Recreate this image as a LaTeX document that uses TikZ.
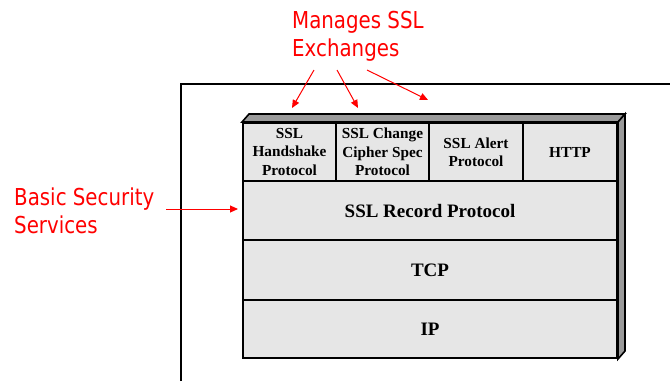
\documentclass[tikz,border=0pt]{standalone}
\usepackage{fontspec}
\setmainfont{Liberation Serif}
\newfontfamily\redfont[FakeStretch=0.85]{DejaVu Sans}
\usetikzlibrary{arrows.meta,calc}
\definecolor{facegray}{HTML}{E6E6E6}
\definecolor{sidegray}{HTML}{9A9A9A}
\definecolor{notered}{HTML}{FF0000}
\tikzset{
  cell/.style={draw=black, line width=2pt, fill=facegray, inner sep=0pt, align=center,
    font=\bfseries\fontsize{15.3}{18.3}\selectfont},
  bigcell/.style={cell, minimum width=374pt, font=\bfseries\fontsize{19}{22}\selectfont},
  shade3d/.style={draw=black, line width=1.6pt, fill=sidegray, line join=miter},
  note/.style={text=notered, inner sep=0pt, anchor=north west, align=left,
    font=\redfont\fontsize{23.3}{28}\selectfont},
  notearrow/.style={draw=notered, line width=1pt, -{Triangle[length=8pt,width=7pt]}},
}
\begin{document}
\begin{tikzpicture}[x=1pt,y=-1pt]
\useasboundingbox (0,0) rectangle (670,381);
% outer frame
\draw[line width=2.2pt] (181,381) -- (181,84) -- (671,84);
% stack cells
\node[cell, minimum width=93pt, minimum height=58pt] (hs) at (289.5,152) {SSL\\Handshake\\Protocol};
\node[cell, minimum width=93pt, minimum height=58pt] (ccs) at (382.5,152) {SSL Change\\Cipher Spec\\Protocol};
\node[cell, minimum width=94pt, minimum height=58pt] (alert) at (476,152) {SSL Alert\\Protocol};
\node[cell, minimum width=94pt, minimum height=58pt] (http) at (570,152) {HTTP};
\node[bigcell, minimum height=59pt] (rec) at (430,210.5) {SSL Record Protocol};
\node[bigcell, minimum height=60pt] (tcp) at (430,270) {TCP};
\node[bigcell, minimum height=58pt] (ip) at (430,329) {IP};
% 3D faces
\filldraw[shade3d] (hs.north west) -- ++(7,-8) -- ($(http.north east)+(7,-8)$) -- (http.north east) -- cycle;
\filldraw[shade3d] (http.north east) -- ++(7,-8) -- ($(ip.south east)+(7,-8)$) -- (ip.south east) -- cycle;
% notes
\node[note] (mgr) at (292,11) {Manages SSL\\Exchanges};
\node[note] (basic) at (14,188) {Basic Security\\Services};
% arrows
\coordinate (m1) at (314,70);
\coordinate (m2) at (337,70);
\coordinate (m3) at (367,70);
\coordinate (t1) at (292,108);
\coordinate (t2) at (358,108);
\coordinate (t3) at (428,100);
\coordinate (b1) at (166,209);
\coordinate (b2) at (238,209);
\draw[notearrow] (m1) -- (t1);
\draw[notearrow] (m2) -- (t2);
\draw[notearrow] (m3) -- (t3);
\draw[notearrow] (b1) -- (b2);
\end{tikzpicture}
\end{document}
